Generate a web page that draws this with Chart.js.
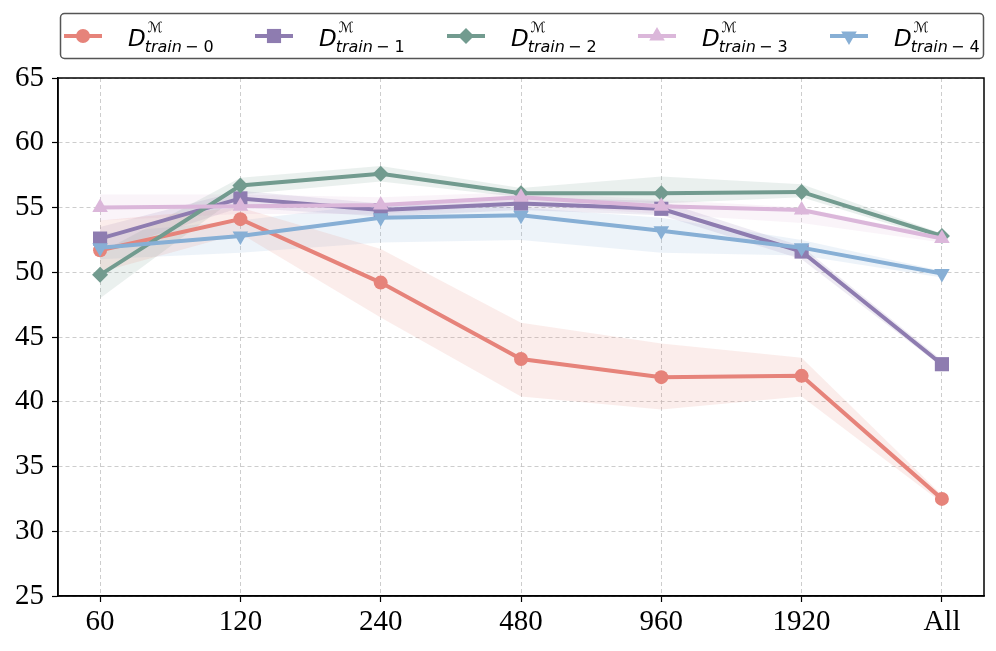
<!DOCTYPE html>
<html>
<head>
<meta charset="utf-8">
<script src="https://cdn.jsdelivr.net/npm/chart.js@4.4.0/dist/chart.umd.min.js"></script>
<style>
  html, body { margin: 0; padding: 0; background: #fff; }
  #wrap { width: 996px; height: 651px; position: relative; }
</style>
</head>
<body>
<div id="wrap"><canvas id="chart"></canvas></div>
<script>
// x categories
var xLabels = ['60', '120', '240', '480', '960', '1920', 'All'];

// mean values per training set
var train0 = [51.7, 54.1, 49.2, 43.3, 41.9, 42.0, 32.5];
var train1 = [52.6, 55.7, 54.8, 55.3, 54.9, 51.6, 42.9];
var train2 = [49.8, 56.7, 57.6, 56.1, 56.1, 56.2, 52.8];
var train3 = [55.0, 55.1, 55.2, 55.8, 55.1, 54.8, 52.6];
var train4 = [51.9, 52.8, 54.2, 54.4, 53.2, 51.9, 49.9];

// shaded band limits (lower / upper)
var train0Lo = [50.0, 53.0, 46.5, 40.4, 39.4, 40.4, 32.2];
var train0Hi = [54.0, 55.0, 51.8, 46.1, 44.5, 43.4, 32.8];
var train1Lo = [51.5, 55.0, 54.3, 54.8, 54.4, 51.0, 42.7];
var train1Hi = [53.5, 56.3, 55.3, 55.8, 55.5, 52.0, 43.2];
var train2Lo = [48.0, 56.0, 57.0, 55.8, 55.3, 55.8, 52.5];
var train2Hi = [51.5, 57.3, 58.2, 56.5, 57.4, 56.8, 53.0];
var train3Lo = [54.0, 54.5, 54.5, 55.2, 54.5, 53.8, 52.3];
var train3Hi = [56.0, 56.0, 55.8, 56.2, 55.6, 55.0, 52.8];
var train4Lo = [51.0, 51.5, 52.3, 52.5, 51.5, 51.3, 49.6];
var train4Hi = [53.0, 54.0, 55.3, 55.0, 54.2, 52.5, 50.1];

var yTicks = [25, 30, 35, 40, 45, 50, 55, 60, 65];

var seriesNames = ['0', '1', '2', '3', '4'];
var colors = ['#e6837a', '#8e7cb0', '#729b8f', '#dbb7da', '#87afd5'];
var bandColors = ['rgba(230,131,122,0.15)', 'rgba(142,124,176,0.15)', 'rgba(114,155,143,0.15)',
                  'rgba(219,183,218,0.15)', 'rgba(135,175,213,0.15)'];
var styles = ['circle', 'rect', 'rectRot', 'triangle', 'triangle'];
var rotations = [0, 0, 0, 0, 180];
var radii = [7, 10, 8, 9, 9];

var means = [train0, train1, train2, train3, train4];
var lows = [train0Lo, train1Lo, train2Lo, train3Lo, train4Lo];
var highs = [train0Hi, train1Hi, train2Hi, train3Hi, train4Hi];

function pts(arr) {
  return arr.map(function (v, i) { return { x: i, y: v }; });
}

var datasets = [];
// main lines first, later series on top
for (var i = 0; i < 5; i++) {
  datasets.push({
    data: pts(means[i]),
    borderColor: colors[i],
    backgroundColor: colors[i],
    borderWidth: 4,
    pointStyle: styles[i],
    pointRotation: rotations[i],
    pointRadius: radii[i],
    pointHoverRadius: radii[i],
    pointBorderWidth: 0,
    fill: false,
    order: 5 - i,
  });
}
// bands
for (var j = 0; j < 5; j++) {
  var lowIdx = datasets.length;
  datasets.push({
    data: pts(lows[j]),
    borderColor: 'rgba(0,0,0,0)',
    borderWidth: 0,
    pointRadius: 0,
    fill: false,
    order: 20,
  });
  datasets.push({
    data: pts(highs[j]),
    borderColor: 'rgba(0,0,0,0)',
    backgroundColor: bandColors[j],
    borderWidth: 0,
    pointRadius: 0,
    fill: { target: lowIdx },
    order: 20,
  });
}

var framePlugin = {
  id: 'frame',
  afterDraw: function (chart) {
    var ctx = chart.ctx;
    var a = chart.chartArea;
    ctx.save();
    ctx.setLineDash([]);
    ctx.strokeStyle = '#000';
    ctx.lineWidth = 1.5;
    ctx.strokeRect(a.left, a.top, a.right - a.left, a.bottom - a.top);
    ctx.restore();
  },
};

var legendPlugin = {
  id: 'mathLegend',
  afterDraw: function (chart) {
    var ctx = chart.ctx;
    ctx.save();
    ctx.setLineDash([]);
    ctx.beginPath();
    ctx.roundRect(60.5, 13.5, 923, 45, 4);
    ctx.fillStyle = '#fff';
    ctx.fill();
    ctx.strokeStyle = '#555';
    ctx.lineWidth = 1.5;
    ctx.stroke();

    var x0s = [64, 255, 447, 638, 830];
    for (var i = 0; i < 5; i++) {
      var x0 = x0s[i];
      var yc = 36;
      ctx.strokeStyle = colors[i];
      ctx.lineWidth = 4;
      ctx.beginPath();
      ctx.moveTo(x0, yc);
      ctx.lineTo(x0 + 38, yc);
      ctx.stroke();
      ctx.fillStyle = colors[i];
      Chart.helpers.drawPoint(ctx, {
        pointStyle: styles[i],
        rotation: rotations[i],
        radius: radii[i],
        borderWidth: 0,
      }, x0 + 19, yc);

      ctx.fillStyle = '#000';
      ctx.textBaseline = 'alphabetic';
      ctx.textAlign = 'left';
      var tx = x0 + 64;
      ctx.font = 'italic 23px "DejaVu Sans"';
      ctx.fillText('D', tx, 46);
      var dw = ctx.measureText('D').width;
      ctx.font = 'italic 14px "DejaVu Sans"';
      ctx.fillText('\u2133', tx + dw + 2, 32);
      ctx.font = 'italic 16px "DejaVu Sans"';
      ctx.fillText('train', tx + dw - 1, 52);
      var tw = ctx.measureText('train').width;
      ctx.font = '16px "DejaVu Sans"';
      ctx.fillText('\u2212 ' + seriesNames[i], tx + dw + tw + 2, 52);
    }
    ctx.restore();
  },
};

var gridOpts = {
  color: '#c0c0c0',
  lineWidth: 0.8,
  borderDash: [4, 3],
  drawTicks: true,
  tickLength: 6,
  tickColor: '#000',
  tickWidth: 1.2,
  tickBorderDash: [],
};

var ctx = document.getElementById('chart').getContext('2d');
var chart = new Chart(ctx, {
  type: 'line',
  data: { datasets: datasets },
  options: {
    maintainAspectRatio: false,
    responsive: true,
    animation: false,
    layout: {
      padding: { top: 78, right: 12, left: 0, bottom: 0 },
    },
    plugins: {
      legend: { display: false },
      tooltip: { enabled: false },
    },
    scales: {
      x: {
        type: 'linear',
        min: -0.3,
        max: 6.3,
        afterFit: function (axis) { axis.height = 55; },
        afterBuildTicks: function (axis) {
          axis.ticks = xLabels.map(function (l, i) { return { value: i }; });
        },
        ticks: {
          callback: function (v) { return xLabels[v]; },
          color: '#000',
          font: { family: '"Liberation Serif"', size: 29 },
          padding: 3,
          maxRotation: 0,
        },
        grid: gridOpts,
        border: { display: true, color: '#000', width: 1.5, dash: [4, 3] },
      },
      y: {
        min: 25,
        max: 65,
        afterFit: function (axis) { axis.width = 58; },
        afterBuildTicks: function (axis) {
          axis.ticks = yTicks.map(function (v) { return { value: v }; });
        },
        ticks: {
          color: '#000',
          font: { family: '"Liberation Serif"', size: 29 },
          padding: 8,
        },
        grid: gridOpts,
        border: { display: true, color: '#000', width: 1.5, dash: [4, 3] },
      },
    },
  },
  plugins: [framePlugin, legendPlugin],
});
</script>
</body>
</html>
